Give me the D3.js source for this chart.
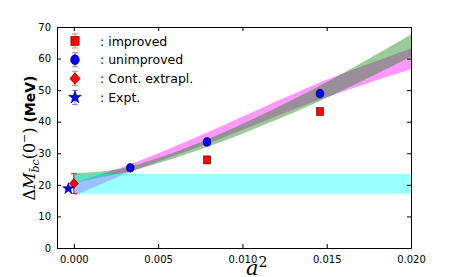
<!DOCTYPE html>
<html>
<head>
<meta charset="utf-8">
<script src="https://cdn.jsdelivr.net/npm/d3@7.9.0/dist/d3.min.js"></script>
<style>
  body { margin: 0; background: #fff; }
  svg { display: block; }
  .tick text { font-family: "DejaVu Sans", sans-serif; font-size: 10px; fill: #000; }
</style>
</head>
<body>
<svg id="chart" width="457" height="277"></svg>
<script>
// values
const improvedX = [0.0079, 0.0146];
const improvedY = [27.9, 43.2];
const improvedErr = [0.8, 0.6];

const unimprovedX = [0.00335, 0.0079, 0.0146];
const unimprovedY = [25.4, 33.6, 48.9];
const unimprovedErr = [0.6, 1.0, 0.7];

const contX = [0.0];
const contY = [20.4];
const contErr = [3.1];

const exptX = [-0.00033];
const exptY = [18.8];
const exptErr = [0.4];

// fit bands (lower / upper edges)
const bandX = [0.0, 0.0017, 0.0034, 0.0079, 0.0146, 0.020];
const greenLo = [20.6, 22.5, 24.4, 32.0, 46.6, 60.6];
const greenHi = [23.7, 24.3, 25.9, 34.4, 51.4, 67.6];
const magentaLo = [16.5, 20.4, 24.2, 33.0, 47.0, 56.6];
const magentaHi = [20.6, 23.5, 26.6, 36.6, 52.4, 63.2];

const cyanX = [0.0, 0.020];
const cyanLo = 17.2;
const cyanHi = 23.4;

const xTicks = [0.000, 0.005, 0.010, 0.015, 0.020];
const yTicks = [0, 10, 20, 30, 40, 50, 60, 70];

const legendItems = [
  { label: ":  improved", color: "red", shape: "square" },
  { label: ": unimproved", color: "blue", shape: "circle" },
  { label: ":  Cont. extrapl.", color: "red", shape: "diamond" },
  { label: ":  Expt.", color: "blue", shape: "star" }
];

const svg = d3.select('#chart');
const margin = { top: 27, right: 46, bottom: 29, left: 57 };
const width = 457 - margin.left - margin.right;
const height = 277 - margin.top - margin.bottom;

const x = d3.scaleLinear().domain([-0.001, 0.020]).range([0, width]);
const y = d3.scaleLinear().domain([0, 70]).range([height, 0]);

const g = svg.append('g').attr('transform', `translate(${margin.left},${margin.top})`);

const clip = svg.append('clipPath').attr('id', 'plotclip');
clip.append('rect').attr('width', width).attr('height', height);
const plot = g.append('g').attr('clip-path', 'url(#plotclip)');

function band(lo, hi) {
  return d3.area()
    .x((d, i) => x(bandX[i]))
    .y0((d, i) => y(lo[i]))
    .y1((d, i) => y(hi[i]))
    .curve(d3.curveCatmullRom.alpha(0.5))(bandX);
}

plot.append('path').attr('d', band(magentaLo, magentaHi)).attr('fill', 'magenta').attr('fill-opacity', 0.4);
plot.append('path').attr('d', band(greenLo, greenHi)).attr('fill', 'green').attr('fill-opacity', 0.4);
plot.append('path')
  .attr('d', d3.area().x(d => x(d)).y0(y(cyanLo)).y1(y(cyanHi))(cyanX))
  .attr('fill', 'cyan').attr('fill-opacity', 0.4);

// markers
function drawShape(sel, shape, color, cx, cy, s = 1) {
  if (shape === 'square') {
    sel.append('rect').attr('x', cx - 3.6 * s).attr('y', cy - 4 * s).attr('width', 7.2 * s).attr('height', 8 * s)
      .attr('fill', color).attr('stroke', '#600').attr('stroke-width', 0.6);
  } else if (shape === 'circle') {
    sel.append('ellipse').attr('cx', cx).attr('cy', cy).attr('rx', 3.8 * s).attr('ry', 4.3 * s)
      .attr('fill', color).attr('stroke', '#002').attr('stroke-width', 0.6);
  } else if (shape === 'diamond') {
    sel.append('path').attr('d', `M${cx},${cy - 5 * s}L${cx + 4.5 * s},${cy}L${cx},${cy + 5 * s}L${cx - 4.5 * s},${cy}Z`)
      .attr('fill', color).attr('stroke', '#600').attr('stroke-width', 0.6);
  } else {
    sel.append('path').attr('d', d3.symbol(d3.symbolStar, 40 * s * s)())
      .attr('transform', `translate(${cx},${cy})`)
      .attr('fill', color).attr('stroke', '#002').attr('stroke-width', 0.5);
  }
}

function errBar(sel, color, cx, y0, y1, opacity) {
  const e = sel.append('g').attr('stroke', color).attr('stroke-width', 1).attr('stroke-opacity', opacity);
  e.append('line').attr('x1', cx).attr('x2', cx).attr('y1', y0).attr('y2', y1);
  e.append('line').attr('x1', cx - 3).attr('x2', cx + 3).attr('y1', y0).attr('y2', y0);
  e.append('line').attr('x1', cx - 3).attr('x2', cx + 3).attr('y1', y1).attr('y2', y1);
}

function series(xs, ys, es, color, shape) {
  xs.forEach((d, i) => {
    errBar(plot, color, x(d), y(ys[i] - es[i]), y(ys[i] + es[i]), 1);
    drawShape(plot, shape, color, x(d), y(ys[i]));
  });
}

series(improvedX, improvedY, improvedErr, 'red', 'square');
series(unimprovedX, unimprovedY, unimprovedErr, 'blue', 'circle');
series(contX, contY, contErr, 'red', 'diamond');
series(exptX, exptY, exptErr, 'blue', 'star');

// axes
const axB = g.append('g').attr('transform', `translate(0,${height})`)
  .call(d3.axisBottom(x).tickValues(xTicks).tickFormat(d3.format('.3f')).tickSize(-4).tickPadding(8));
const axL = g.append('g')
  .call(d3.axisLeft(y).tickValues(yTicks).tickSize(-4).tickPadding(6));
const axT = g.append('g')
  .call(d3.axisTop(x).tickValues(xTicks).tickSize(-4).tickFormat(''));
const axR = g.append('g').attr('transform', `translate(${width},0)`)
  .call(d3.axisRight(y).tickValues(yTicks).tickSize(-4).tickFormat(''));
[axB, axL, axT, axR].forEach(a => {
  a.select('.domain').attr('stroke', '#000').attr('stroke-width', 1);
  a.selectAll('.tick line').attr('stroke', '#000');
});

// legend
const leg = g.append('g');
legendItems.forEach((d, i) => {
  const cy = 14 + i * 18.8;
  errBar(leg, d.color, 18, cy - 7, cy + 7, 0.5);
  drawShape(leg, d.shape, d.color, 18, cy, 1.15);
  leg.append('text').attr('x', 43).attr('y', cy + 4.5)
    .attr('font-family', 'DejaVu Sans, sans-serif').attr('font-size', 12.5)
    .text(d.label);
});

// axis labels
svg.append('text').attr('x', 246).attr('y', 275)
  .attr('font-family', 'DejaVu Serif, serif').attr('font-style', 'italic').attr('font-size', 21)
  .text('a')
  .append('tspan').attr('font-style', 'normal').attr('font-size', 14).attr('dy', -8).text('2');

const yl = svg.append('text')
  .attr('transform', 'translate(35,138) rotate(-90)')
  .attr('text-anchor', 'middle')
  .attr('font-family', 'DejaVu Serif, serif').attr('font-size', 16);
yl.append('tspan').text('Δ');
yl.append('tspan').attr('font-style', 'italic').text('M');
yl.append('tspan').attr('font-style', 'italic').attr('font-size', 11).attr('dy', 4).text('b̄c');
yl.append('tspan').attr('dy', -4).text('(0');
yl.append('tspan').attr('font-size', 11).attr('dy', -7).text('−');
yl.append('tspan').attr('dy', 7).text(')');
yl.append('tspan').attr('font-family', 'DejaVu Sans, sans-serif').attr('font-weight', 'bold').attr('font-size', 14).text(' (MeV)');
</script>
</body>
</html>
